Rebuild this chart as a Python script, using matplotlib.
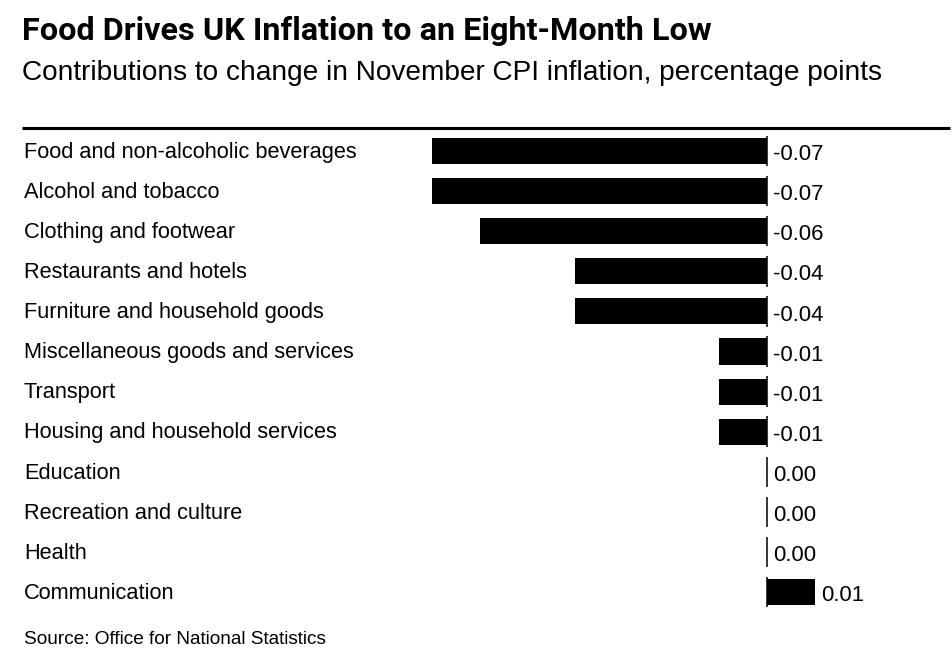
import matplotlib
matplotlib.use("Agg")
import matplotlib.pyplot as plt
from matplotlib import font_manager

categories = [
    "Food and non-alcoholic beverages",
    "Alcohol and tobacco",
    "Clothing and footwear",
    "Restaurants and hotels",
    "Furniture and household goods",
    "Miscellaneous goods and services",
    "Transport",
    "Housing and household services",
    "Education",
    "Recreation and culture",
    "Health",
    "Communication",
]
values = [-0.07, -0.07, -0.06, -0.04, -0.04, -0.01, -0.01, -0.01, 0.00, 0.00, 0.00, 0.01]
value_labels = ["-0.07", "-0.07", "-0.06", "-0.04", "-0.04", "-0.01", "-0.01", "-0.01",
                "0.00", "0.00", "0.00", "0.01"]

title = "Food Drives UK Inflation to an Eight-Month Low"
subtitle = "Contributions to change in November CPI inflation, percentage points"
source = "Source: Office for National Statistics"

installed = {f.name for f in font_manager.fontManager.ttflist}
body_font = "Liberation Sans"
title_font = "Liberation Sans Narrow" if "Liberation Sans Narrow" in installed else "Roboto"

W, H = 953, 669
fig = plt.figure(figsize=(W / 100, H / 100), dpi=100)
fig.patch.set_facecolor("white")

# axes box in pixels: x 22..950, y 128..615
left, right, top, bottom = 22, 950, 128, 615
ax = fig.add_axes([left / W, 1 - bottom / H, (right - left) / W, (bottom - top) / H])
ax.axis("off")

# zero at pixel 767, 0.01 ~ 47.9 px
px_per_unit = 4790
ax.set_xlim((left - 767) / px_per_unit, (right - 767) / px_per_unit)
row0, row_step = 151, 40.1
ax.set_ylim((bottom - row0) / row_step, (top - row0) / row_step)

ypos = list(range(len(categories)))
ax.barh(ypos, values, height=0.65, color="black", linewidth=0)

# short zero-line piece on every row
for y in ypos:
    ax.plot([0, 0], [y - 0.38, y + 0.38], color="black", linewidth=1.1, solid_capstyle="butt")

for y, cat, v, lab in zip(ypos, categories, values, value_labels):
    ax.text(0.002, y + 0.03, cat, transform=ax.get_yaxis_transform(), ha="left", va="center",
            fontsize=15.7, family=body_font, color="black")
    ax.annotate(lab, xy=(max(v, 0), y + 0.09), xytext=(4.3, 0), textcoords="offset points",
                ha="left", va="center", fontsize=15.9, family=body_font, color="black")

# heavy rule under the header
fig.add_artist(plt.Line2D([left / W, right / W], [1 - 128 / H, 1 - 128 / H],
                          color="black", linewidth=2.2, solid_capstyle="butt",
                          transform=fig.transFigure))

fig.text(22 / W, 1 - 31 / H, title, ha="left", va="center", fontsize=23.3, fontweight="bold",
         family=title_font, color="black")
fig.text(22 / W, 1 - 73 / H, subtitle, ha="left", va="center", fontsize=20.2,
         family=body_font, color="black")
fig.text(24 / W, 1 - 640 / H, source, ha="left", va="center", fontsize=13.7,
         family=body_font, color="black")

fig.savefig("out.png", dpi=100, facecolor="white")
